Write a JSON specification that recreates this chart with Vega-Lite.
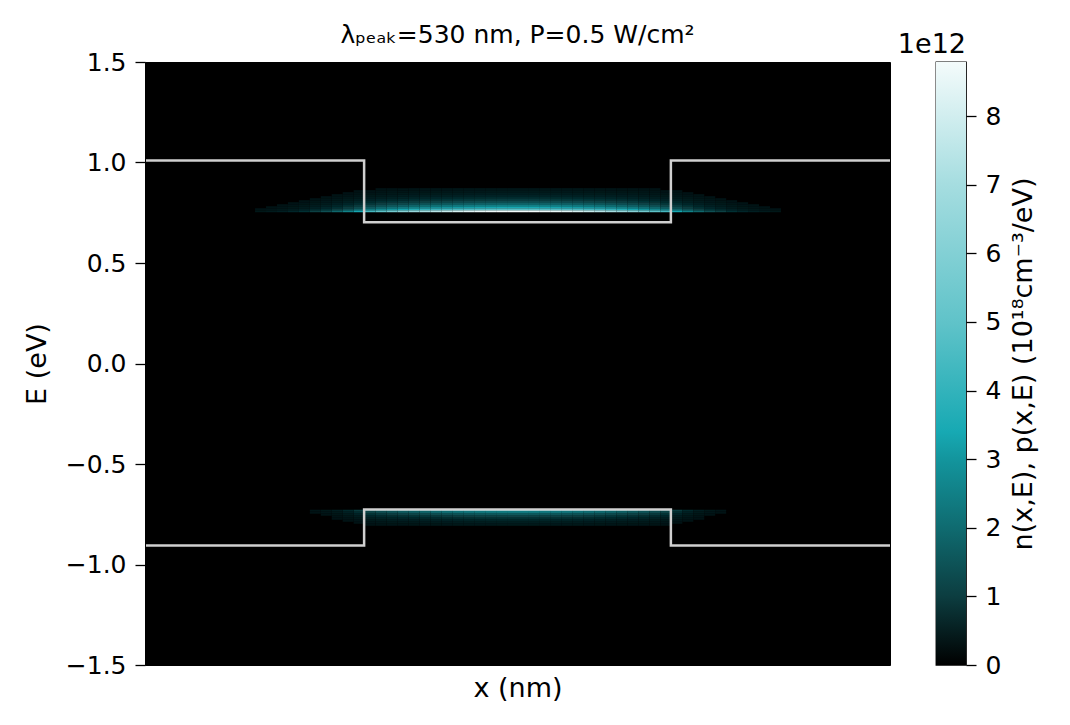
{
  "$schema": "https://vega.github.io/schema/vega-lite/v6.json",
  "padding": {"left": 22, "top": 22, "right": 5, "bottom": 5},
  "background": "white",
  "config": {
    "font": "DejaVu Sans",
    "axis": {"labelFontSize": 25, "titleFontSize": 27, "labelColor": "black", "titleColor": "black", "titleFontWeight": "normal", "grid": false, "tickColor": "black", "domainColor": "black", "tickSize": 10, "tickWidth": 1.3, "labelPadding": 9},
    "title": {"fontWeight": "normal", "color": "black"}
  },
  "datasets": {
    "heat": [
      {"x":16.5,"e":0.755,"v":8.8},{"x":16,"e":0.755,"v":8.8},{"x":15.5,"e":0.755,"v":8.67},{"x":15,"e":0.755,"v":8.54},{"x":14.5,"e":0.755,"v":8.32},{"x":14,"e":0.755,"v":8.05},{"x":13.5,"e":0.755,"v":7.74},{"x":13,"e":0.755,"v":7.39},{"x":12.5,"e":0.755,"v":7.0},{"x":12,"e":0.755,"v":6.56},{"x":11.5,"e":0.755,"v":6.07},{"x":11,"e":0.755,"v":5.46},{"x":10.5,"e":0.755,"v":4.88},{"x":10,"e":0.755,"v":4.22},{"x":9.5,"e":0.755,"v":3.34},{"x":9,"e":0.755,"v":2.55},{"x":8.5,"e":0.755,"v":1.89},{"x":8,"e":0.755,"v":1.41},{"x":7.5,"e":0.755,"v":1.06},{"x":7,"e":0.755,"v":0.75},{"x":6.5,"e":0.755,"v":0.53},{"x":6,"e":0.755,"v":0.37},{"x":5.5,"e":0.755,"v":0.26},{"x":5,"e":0.755,"v":0.18},
      {"x":17,"e":0.755,"v":8.8},{"x":17.5,"e":0.755,"v":8.8},{"x":18,"e":0.755,"v":8.67},{"x":18.5,"e":0.755,"v":8.54},{"x":19,"e":0.755,"v":8.32},{"x":19.5,"e":0.755,"v":8.05},{"x":20,"e":0.755,"v":7.74},{"x":20.5,"e":0.755,"v":7.39},{"x":21,"e":0.755,"v":7.0},{"x":21.5,"e":0.755,"v":6.56},{"x":22,"e":0.755,"v":6.07},{"x":22.5,"e":0.755,"v":5.46},{"x":23,"e":0.755,"v":4.88},{"x":23.5,"e":0.755,"v":4.22},{"x":24,"e":0.755,"v":3.34},{"x":24.5,"e":0.755,"v":2.55},{"x":25,"e":0.755,"v":1.89},{"x":25.5,"e":0.755,"v":1.41},{"x":26,"e":0.755,"v":1.06},{"x":26.5,"e":0.755,"v":0.75},{"x":27,"e":0.755,"v":0.53},{"x":27.5,"e":0.755,"v":0.37},{"x":28,"e":0.755,"v":0.26},{"x":28.5,"e":0.755,"v":0.18},
      {"x":16.5,"e":0.765,"v":4.8},{"x":16,"e":0.765,"v":4.8},{"x":15.5,"e":0.765,"v":4.73},{"x":15,"e":0.765,"v":4.66},{"x":14.5,"e":0.765,"v":4.54},{"x":14,"e":0.765,"v":4.39},{"x":13.5,"e":0.765,"v":4.22},{"x":13,"e":0.765,"v":4.03},{"x":12.5,"e":0.765,"v":3.82},{"x":12,"e":0.765,"v":3.58},{"x":11.5,"e":0.765,"v":3.31},{"x":11,"e":0.765,"v":2.98},{"x":10.5,"e":0.765,"v":2.66},{"x":10,"e":0.765,"v":2.3},{"x":9.5,"e":0.765,"v":1.82},{"x":9,"e":0.765,"v":1.39},{"x":8.5,"e":0.765,"v":1.03},{"x":8,"e":0.765,"v":0.77},{"x":7.5,"e":0.765,"v":0.58},{"x":7,"e":0.765,"v":0.41},{"x":6.5,"e":0.765,"v":0.29},{"x":6,"e":0.765,"v":0.2},{"x":5.5,"e":0.765,"v":0.14},{"x":5,"e":0.765,"v":0.1},
      {"x":17,"e":0.765,"v":4.8},{"x":17.5,"e":0.765,"v":4.8},{"x":18,"e":0.765,"v":4.73},{"x":18.5,"e":0.765,"v":4.66},{"x":19,"e":0.765,"v":4.54},{"x":19.5,"e":0.765,"v":4.39},{"x":20,"e":0.765,"v":4.22},{"x":20.5,"e":0.765,"v":4.03},{"x":21,"e":0.765,"v":3.82},{"x":21.5,"e":0.765,"v":3.58},{"x":22,"e":0.765,"v":3.31},{"x":22.5,"e":0.765,"v":2.98},{"x":23,"e":0.765,"v":2.66},{"x":23.5,"e":0.765,"v":2.3},{"x":24,"e":0.765,"v":1.82},{"x":24.5,"e":0.765,"v":1.39},{"x":25,"e":0.765,"v":1.03},{"x":25.5,"e":0.765,"v":0.77},{"x":26,"e":0.765,"v":0.58},{"x":26.5,"e":0.765,"v":0.41},{"x":27,"e":0.765,"v":0.29},{"x":27.5,"e":0.765,"v":0.2},{"x":28,"e":0.765,"v":0.14},{"x":28.5,"e":0.765,"v":0.1},
      {"x":16.5,"e":0.775,"v":3.4},{"x":16,"e":0.775,"v":3.4},{"x":15.5,"e":0.775,"v":3.35},{"x":15,"e":0.775,"v":3.3},{"x":14.5,"e":0.775,"v":3.21},{"x":14,"e":0.775,"v":3.11},{"x":13.5,"e":0.775,"v":2.99},{"x":13,"e":0.775,"v":2.86},{"x":12.5,"e":0.775,"v":2.7},{"x":12,"e":0.775,"v":2.53},{"x":11.5,"e":0.775,"v":2.35},{"x":11,"e":0.775,"v":2.11},{"x":10.5,"e":0.775,"v":1.89},{"x":10,"e":0.775,"v":1.63},{"x":9.5,"e":0.775,"v":1.29},{"x":9,"e":0.775,"v":0.99},{"x":8.5,"e":0.775,"v":0.73},{"x":8,"e":0.775,"v":0.54},{"x":7.5,"e":0.775,"v":0.41},{"x":7,"e":0.775,"v":0.29},{"x":6.5,"e":0.775,"v":0.2},{"x":6,"e":0.775,"v":0.14},{"x":5.5,"e":0.775,"v":0.1},
      {"x":17,"e":0.775,"v":3.4},{"x":17.5,"e":0.775,"v":3.4},{"x":18,"e":0.775,"v":3.35},{"x":18.5,"e":0.775,"v":3.3},{"x":19,"e":0.775,"v":3.21},{"x":19.5,"e":0.775,"v":3.11},{"x":20,"e":0.775,"v":2.99},{"x":20.5,"e":0.775,"v":2.86},{"x":21,"e":0.775,"v":2.7},{"x":21.5,"e":0.775,"v":2.53},{"x":22,"e":0.775,"v":2.35},{"x":22.5,"e":0.775,"v":2.11},{"x":23,"e":0.775,"v":1.89},{"x":23.5,"e":0.775,"v":1.63},{"x":24,"e":0.775,"v":1.29},{"x":24.5,"e":0.775,"v":0.99},{"x":25,"e":0.775,"v":0.73},{"x":25.5,"e":0.775,"v":0.54},{"x":26,"e":0.775,"v":0.41},{"x":26.5,"e":0.775,"v":0.29},{"x":27,"e":0.775,"v":0.2},{"x":27.5,"e":0.775,"v":0.14},{"x":28,"e":0.775,"v":0.1},
      {"x":16.5,"e":0.785,"v":2.5},{"x":16,"e":0.785,"v":2.5},{"x":15.5,"e":0.785,"v":2.46},{"x":15,"e":0.785,"v":2.43},{"x":14.5,"e":0.785,"v":2.36},{"x":14,"e":0.785,"v":2.29},{"x":13.5,"e":0.785,"v":2.2},{"x":13,"e":0.785,"v":2.1},{"x":12.5,"e":0.785,"v":1.99},{"x":12,"e":0.785,"v":1.86},{"x":11.5,"e":0.785,"v":1.73},{"x":11,"e":0.785,"v":1.55},{"x":10.5,"e":0.785,"v":1.39},{"x":10,"e":0.785,"v":1.2},{"x":9.5,"e":0.785,"v":0.95},{"x":9,"e":0.785,"v":0.73},{"x":8.5,"e":0.785,"v":0.54},{"x":8,"e":0.785,"v":0.4},{"x":7.5,"e":0.785,"v":0.3},{"x":7,"e":0.785,"v":0.21},{"x":6.5,"e":0.785,"v":0.15},{"x":6,"e":0.785,"v":0.1},
      {"x":17,"e":0.785,"v":2.5},{"x":17.5,"e":0.785,"v":2.5},{"x":18,"e":0.785,"v":2.46},{"x":18.5,"e":0.785,"v":2.43},{"x":19,"e":0.785,"v":2.36},{"x":19.5,"e":0.785,"v":2.29},{"x":20,"e":0.785,"v":2.2},{"x":20.5,"e":0.785,"v":2.1},{"x":21,"e":0.785,"v":1.99},{"x":21.5,"e":0.785,"v":1.86},{"x":22,"e":0.785,"v":1.73},{"x":22.5,"e":0.785,"v":1.55},{"x":23,"e":0.785,"v":1.39},{"x":23.5,"e":0.785,"v":1.2},{"x":24,"e":0.785,"v":0.95},{"x":24.5,"e":0.785,"v":0.73},{"x":25,"e":0.785,"v":0.54},{"x":25.5,"e":0.785,"v":0.4},{"x":26,"e":0.785,"v":0.3},{"x":26.5,"e":0.785,"v":0.21},{"x":27,"e":0.785,"v":0.15},{"x":27.5,"e":0.785,"v":0.1},
      {"x":16.5,"e":0.795,"v":1.8},{"x":16,"e":0.795,"v":1.8},{"x":15.5,"e":0.795,"v":1.77},{"x":15,"e":0.795,"v":1.75},{"x":14.5,"e":0.795,"v":1.7},{"x":14,"e":0.795,"v":1.65},{"x":13.5,"e":0.795,"v":1.58},{"x":13,"e":0.795,"v":1.51},{"x":12.5,"e":0.795,"v":1.43},{"x":12,"e":0.795,"v":1.34},{"x":11.5,"e":0.795,"v":1.24},{"x":11,"e":0.795,"v":1.12},{"x":10.5,"e":0.795,"v":1.0},{"x":10,"e":0.795,"v":0.86},{"x":9.5,"e":0.795,"v":0.68},{"x":9,"e":0.795,"v":0.52},{"x":8.5,"e":0.795,"v":0.39},{"x":8,"e":0.795,"v":0.29},{"x":7.5,"e":0.795,"v":0.22},{"x":7,"e":0.795,"v":0.15},{"x":6.5,"e":0.795,"v":0.11},
      {"x":17,"e":0.795,"v":1.8},{"x":17.5,"e":0.795,"v":1.8},{"x":18,"e":0.795,"v":1.77},{"x":18.5,"e":0.795,"v":1.75},{"x":19,"e":0.795,"v":1.7},{"x":19.5,"e":0.795,"v":1.65},{"x":20,"e":0.795,"v":1.58},{"x":20.5,"e":0.795,"v":1.51},{"x":21,"e":0.795,"v":1.43},{"x":21.5,"e":0.795,"v":1.34},{"x":22,"e":0.795,"v":1.24},{"x":22.5,"e":0.795,"v":1.12},{"x":23,"e":0.795,"v":1.0},{"x":23.5,"e":0.795,"v":0.86},{"x":24,"e":0.795,"v":0.68},{"x":24.5,"e":0.795,"v":0.52},{"x":25,"e":0.795,"v":0.39},{"x":25.5,"e":0.795,"v":0.29},{"x":26,"e":0.795,"v":0.22},{"x":26.5,"e":0.795,"v":0.15},{"x":27,"e":0.795,"v":0.11},
      {"x":16.5,"e":0.805,"v":1.3},{"x":16,"e":0.805,"v":1.3},{"x":15.5,"e":0.805,"v":1.28},{"x":15,"e":0.805,"v":1.26},{"x":14.5,"e":0.805,"v":1.23},{"x":14,"e":0.805,"v":1.19},{"x":13.5,"e":0.805,"v":1.14},{"x":13,"e":0.805,"v":1.09},{"x":12.5,"e":0.805,"v":1.03},{"x":12,"e":0.805,"v":0.97},{"x":11.5,"e":0.805,"v":0.9},{"x":11,"e":0.805,"v":0.81},{"x":10.5,"e":0.805,"v":0.72},{"x":10,"e":0.805,"v":0.62},{"x":9.5,"e":0.805,"v":0.49},{"x":9,"e":0.805,"v":0.38},{"x":8.5,"e":0.805,"v":0.28},{"x":8,"e":0.805,"v":0.21},{"x":7.5,"e":0.805,"v":0.16},{"x":7,"e":0.805,"v":0.11},
      {"x":17,"e":0.805,"v":1.3},{"x":17.5,"e":0.805,"v":1.3},{"x":18,"e":0.805,"v":1.28},{"x":18.5,"e":0.805,"v":1.26},{"x":19,"e":0.805,"v":1.23},{"x":19.5,"e":0.805,"v":1.19},{"x":20,"e":0.805,"v":1.14},{"x":20.5,"e":0.805,"v":1.09},{"x":21,"e":0.805,"v":1.03},{"x":21.5,"e":0.805,"v":0.97},{"x":22,"e":0.805,"v":0.9},{"x":22.5,"e":0.805,"v":0.81},{"x":23,"e":0.805,"v":0.72},{"x":23.5,"e":0.805,"v":0.62},{"x":24,"e":0.805,"v":0.49},{"x":24.5,"e":0.805,"v":0.38},{"x":25,"e":0.805,"v":0.28},{"x":25.5,"e":0.805,"v":0.21},{"x":26,"e":0.805,"v":0.16},{"x":26.5,"e":0.805,"v":0.11},
      {"x":16.5,"e":0.815,"v":0.92},{"x":16,"e":0.815,"v":0.92},{"x":15.5,"e":0.815,"v":0.91},{"x":15,"e":0.815,"v":0.89},{"x":14.5,"e":0.815,"v":0.87},{"x":14,"e":0.815,"v":0.84},{"x":13.5,"e":0.815,"v":0.81},{"x":13,"e":0.815,"v":0.77},{"x":12.5,"e":0.815,"v":0.73},{"x":12,"e":0.815,"v":0.69},{"x":11.5,"e":0.815,"v":0.63},{"x":11,"e":0.815,"v":0.57},{"x":10.5,"e":0.815,"v":0.51},{"x":10,"e":0.815,"v":0.44},{"x":9.5,"e":0.815,"v":0.35},{"x":9,"e":0.815,"v":0.27},{"x":8.5,"e":0.815,"v":0.2},{"x":8,"e":0.815,"v":0.15},{"x":7.5,"e":0.815,"v":0.11},
      {"x":17,"e":0.815,"v":0.92},{"x":17.5,"e":0.815,"v":0.92},{"x":18,"e":0.815,"v":0.91},{"x":18.5,"e":0.815,"v":0.89},{"x":19,"e":0.815,"v":0.87},{"x":19.5,"e":0.815,"v":0.84},{"x":20,"e":0.815,"v":0.81},{"x":20.5,"e":0.815,"v":0.77},{"x":21,"e":0.815,"v":0.73},{"x":21.5,"e":0.815,"v":0.69},{"x":22,"e":0.815,"v":0.63},{"x":22.5,"e":0.815,"v":0.57},{"x":23,"e":0.815,"v":0.51},{"x":23.5,"e":0.815,"v":0.44},{"x":24,"e":0.815,"v":0.35},{"x":24.5,"e":0.815,"v":0.27},{"x":25,"e":0.815,"v":0.2},{"x":25.5,"e":0.815,"v":0.15},{"x":26,"e":0.815,"v":0.11},
      {"x":16.5,"e":0.825,"v":0.65},{"x":16,"e":0.825,"v":0.65},{"x":15.5,"e":0.825,"v":0.64},{"x":15,"e":0.825,"v":0.63},{"x":14.5,"e":0.825,"v":0.61},{"x":14,"e":0.825,"v":0.59},{"x":13.5,"e":0.825,"v":0.57},{"x":13,"e":0.825,"v":0.55},{"x":12.5,"e":0.825,"v":0.52},{"x":12,"e":0.825,"v":0.48},{"x":11.5,"e":0.825,"v":0.45},{"x":11,"e":0.825,"v":0.4},{"x":10.5,"e":0.825,"v":0.36},{"x":10,"e":0.825,"v":0.31},{"x":9.5,"e":0.825,"v":0.25},{"x":9,"e":0.825,"v":0.19},{"x":8.5,"e":0.825,"v":0.14},{"x":8,"e":0.825,"v":0.1},
      {"x":17,"e":0.825,"v":0.65},{"x":17.5,"e":0.825,"v":0.65},{"x":18,"e":0.825,"v":0.64},{"x":18.5,"e":0.825,"v":0.63},{"x":19,"e":0.825,"v":0.61},{"x":19.5,"e":0.825,"v":0.59},{"x":20,"e":0.825,"v":0.57},{"x":20.5,"e":0.825,"v":0.55},{"x":21,"e":0.825,"v":0.52},{"x":21.5,"e":0.825,"v":0.48},{"x":22,"e":0.825,"v":0.45},{"x":22.5,"e":0.825,"v":0.4},{"x":23,"e":0.825,"v":0.36},{"x":23.5,"e":0.825,"v":0.31},{"x":24,"e":0.825,"v":0.25},{"x":24.5,"e":0.825,"v":0.19},{"x":25,"e":0.825,"v":0.14},{"x":25.5,"e":0.825,"v":0.1},
      {"x":16.5,"e":0.835,"v":0.46},{"x":16,"e":0.835,"v":0.46},{"x":15.5,"e":0.835,"v":0.45},{"x":15,"e":0.835,"v":0.45},{"x":14.5,"e":0.835,"v":0.43},{"x":14,"e":0.835,"v":0.42},{"x":13.5,"e":0.835,"v":0.4},{"x":13,"e":0.835,"v":0.39},{"x":12.5,"e":0.835,"v":0.37},{"x":12,"e":0.835,"v":0.34},{"x":11.5,"e":0.835,"v":0.32},{"x":11,"e":0.835,"v":0.29},{"x":10.5,"e":0.835,"v":0.26},{"x":10,"e":0.835,"v":0.22},{"x":9.5,"e":0.835,"v":0.17},{"x":9,"e":0.835,"v":0.13},{"x":8.5,"e":0.835,"v":0.1},
      {"x":17,"e":0.835,"v":0.46},{"x":17.5,"e":0.835,"v":0.46},{"x":18,"e":0.835,"v":0.45},{"x":18.5,"e":0.835,"v":0.45},{"x":19,"e":0.835,"v":0.43},{"x":19.5,"e":0.835,"v":0.42},{"x":20,"e":0.835,"v":0.4},{"x":20.5,"e":0.835,"v":0.39},{"x":21,"e":0.835,"v":0.37},{"x":21.5,"e":0.835,"v":0.34},{"x":22,"e":0.835,"v":0.32},{"x":22.5,"e":0.835,"v":0.29},{"x":23,"e":0.835,"v":0.26},{"x":23.5,"e":0.835,"v":0.22},{"x":24,"e":0.835,"v":0.17},{"x":24.5,"e":0.835,"v":0.13},{"x":25,"e":0.835,"v":0.1},
      {"x":16.5,"e":0.845,"v":0.32},{"x":16,"e":0.845,"v":0.32},{"x":15.5,"e":0.845,"v":0.32},{"x":15,"e":0.845,"v":0.31},{"x":14.5,"e":0.845,"v":0.3},{"x":14,"e":0.845,"v":0.29},{"x":13.5,"e":0.845,"v":0.28},{"x":13,"e":0.845,"v":0.27},{"x":12.5,"e":0.845,"v":0.25},{"x":12,"e":0.845,"v":0.24},{"x":11.5,"e":0.845,"v":0.22},{"x":11,"e":0.845,"v":0.2},{"x":10.5,"e":0.845,"v":0.18},{"x":10,"e":0.845,"v":0.15},{"x":9.5,"e":0.845,"v":0.12},{"x":9,"e":0.845,"v":0.09},
      {"x":17,"e":0.845,"v":0.32},{"x":17.5,"e":0.845,"v":0.32},{"x":18,"e":0.845,"v":0.32},{"x":18.5,"e":0.845,"v":0.31},{"x":19,"e":0.845,"v":0.3},{"x":19.5,"e":0.845,"v":0.29},{"x":20,"e":0.845,"v":0.28},{"x":20.5,"e":0.845,"v":0.27},{"x":21,"e":0.845,"v":0.25},{"x":21.5,"e":0.845,"v":0.24},{"x":22,"e":0.845,"v":0.22},{"x":22.5,"e":0.845,"v":0.2},{"x":23,"e":0.845,"v":0.18},{"x":23.5,"e":0.845,"v":0.15},{"x":24,"e":0.845,"v":0.12},{"x":24.5,"e":0.845,"v":0.09},
      {"x":16.5,"e":0.855,"v":0.22},{"x":16,"e":0.855,"v":0.22},{"x":15.5,"e":0.855,"v":0.22},{"x":15,"e":0.855,"v":0.21},{"x":14.5,"e":0.855,"v":0.21},{"x":14,"e":0.855,"v":0.2},{"x":13.5,"e":0.855,"v":0.19},{"x":13,"e":0.855,"v":0.18},{"x":12.5,"e":0.855,"v":0.17},{"x":12,"e":0.855,"v":0.16},{"x":11.5,"e":0.855,"v":0.15},{"x":11,"e":0.855,"v":0.14},{"x":10.5,"e":0.855,"v":0.12},{"x":10,"e":0.855,"v":0.11},{"x":9.5,"e":0.855,"v":0.08},
      {"x":17,"e":0.855,"v":0.22},{"x":17.5,"e":0.855,"v":0.22},{"x":18,"e":0.855,"v":0.22},{"x":18.5,"e":0.855,"v":0.21},{"x":19,"e":0.855,"v":0.21},{"x":19.5,"e":0.855,"v":0.2},{"x":20,"e":0.855,"v":0.19},{"x":20.5,"e":0.855,"v":0.18},{"x":21,"e":0.855,"v":0.17},{"x":21.5,"e":0.855,"v":0.16},{"x":22,"e":0.855,"v":0.15},{"x":22.5,"e":0.855,"v":0.14},{"x":23,"e":0.855,"v":0.12},{"x":23.5,"e":0.855,"v":0.11},{"x":24,"e":0.855,"v":0.08},
      {"x":16.5,"e":0.865,"v":0.15},{"x":16,"e":0.865,"v":0.15},{"x":15.5,"e":0.865,"v":0.15},{"x":15,"e":0.865,"v":0.15},{"x":14.5,"e":0.865,"v":0.14},{"x":14,"e":0.865,"v":0.14},{"x":13.5,"e":0.865,"v":0.13},{"x":13,"e":0.865,"v":0.13},{"x":12.5,"e":0.865,"v":0.12},{"x":12,"e":0.865,"v":0.11},{"x":11.5,"e":0.865,"v":0.1},{"x":11,"e":0.865,"v":0.09},{"x":10.5,"e":0.865,"v":0.08},
      {"x":17,"e":0.865,"v":0.15},{"x":17.5,"e":0.865,"v":0.15},{"x":18,"e":0.865,"v":0.15},{"x":18.5,"e":0.865,"v":0.15},{"x":19,"e":0.865,"v":0.14},{"x":19.5,"e":0.865,"v":0.14},{"x":20,"e":0.865,"v":0.13},{"x":20.5,"e":0.865,"v":0.13},{"x":21,"e":0.865,"v":0.12},{"x":21.5,"e":0.865,"v":0.11},{"x":22,"e":0.865,"v":0.1},{"x":22.5,"e":0.865,"v":0.09},{"x":23,"e":0.865,"v":0.08},
      {"x":16.5,"e":-0.735,"v":3.4},{"x":16,"e":-0.735,"v":3.37},{"x":15.5,"e":-0.735,"v":3.32},{"x":15,"e":-0.735,"v":3.26},{"x":14.5,"e":-0.735,"v":3.18},{"x":14,"e":-0.735,"v":3.08},{"x":13.5,"e":-0.735,"v":2.96},{"x":13,"e":-0.735,"v":2.82},{"x":12.5,"e":-0.735,"v":2.67},{"x":12,"e":-0.735,"v":2.5},{"x":11.5,"e":-0.735,"v":2.33},{"x":11,"e":-0.735,"v":2.14},{"x":10.5,"e":-0.735,"v":1.96},{"x":10,"e":-0.735,"v":1.7},{"x":9.5,"e":-0.735,"v":0.95},{"x":9,"e":-0.735,"v":0.58},{"x":8.5,"e":-0.735,"v":0.34},{"x":8,"e":-0.735,"v":0.2},{"x":7.5,"e":-0.735,"v":0.12},
      {"x":17,"e":-0.735,"v":3.4},{"x":17.5,"e":-0.735,"v":3.37},{"x":18,"e":-0.735,"v":3.32},{"x":18.5,"e":-0.735,"v":3.26},{"x":19,"e":-0.735,"v":3.18},{"x":19.5,"e":-0.735,"v":3.08},{"x":20,"e":-0.735,"v":2.96},{"x":20.5,"e":-0.735,"v":2.82},{"x":21,"e":-0.735,"v":2.67},{"x":21.5,"e":-0.735,"v":2.5},{"x":22,"e":-0.735,"v":2.33},{"x":22.5,"e":-0.735,"v":2.14},{"x":23,"e":-0.735,"v":1.96},{"x":23.5,"e":-0.735,"v":1.7},{"x":24,"e":-0.735,"v":0.95},{"x":24.5,"e":-0.735,"v":0.58},{"x":25,"e":-0.735,"v":0.34},{"x":25.5,"e":-0.735,"v":0.2},{"x":26,"e":-0.735,"v":0.12},
      {"x":16.5,"e":-0.745,"v":2.3},{"x":16,"e":-0.745,"v":2.28},{"x":15.5,"e":-0.745,"v":2.24},{"x":15,"e":-0.745,"v":2.21},{"x":14.5,"e":-0.745,"v":2.15},{"x":14,"e":-0.745,"v":2.08},{"x":13.5,"e":-0.745,"v":2.0},{"x":13,"e":-0.745,"v":1.91},{"x":12.5,"e":-0.745,"v":1.81},{"x":12,"e":-0.745,"v":1.69},{"x":11.5,"e":-0.745,"v":1.58},{"x":11,"e":-0.745,"v":1.45},{"x":10.5,"e":-0.745,"v":1.32},{"x":10,"e":-0.745,"v":1.15},{"x":9.5,"e":-0.745,"v":0.64},{"x":9,"e":-0.745,"v":0.39},{"x":8.5,"e":-0.745,"v":0.23},{"x":8,"e":-0.745,"v":0.14},{"x":7.5,"e":-0.745,"v":0.08},
      {"x":17,"e":-0.745,"v":2.3},{"x":17.5,"e":-0.745,"v":2.28},{"x":18,"e":-0.745,"v":2.24},{"x":18.5,"e":-0.745,"v":2.21},{"x":19,"e":-0.745,"v":2.15},{"x":19.5,"e":-0.745,"v":2.08},{"x":20,"e":-0.745,"v":2.0},{"x":20.5,"e":-0.745,"v":1.91},{"x":21,"e":-0.745,"v":1.81},{"x":21.5,"e":-0.745,"v":1.69},{"x":22,"e":-0.745,"v":1.58},{"x":22.5,"e":-0.745,"v":1.45},{"x":23,"e":-0.745,"v":1.32},{"x":23.5,"e":-0.745,"v":1.15},{"x":24,"e":-0.745,"v":0.64},{"x":24.5,"e":-0.745,"v":0.39},{"x":25,"e":-0.745,"v":0.23},{"x":25.5,"e":-0.745,"v":0.14},{"x":26,"e":-0.745,"v":0.08},
      {"x":16.5,"e":-0.755,"v":1.6},{"x":16,"e":-0.755,"v":1.58},{"x":15.5,"e":-0.755,"v":1.56},{"x":15,"e":-0.755,"v":1.54},{"x":14.5,"e":-0.755,"v":1.5},{"x":14,"e":-0.755,"v":1.45},{"x":13.5,"e":-0.755,"v":1.39},{"x":13,"e":-0.755,"v":1.33},{"x":12.5,"e":-0.755,"v":1.26},{"x":12,"e":-0.755,"v":1.18},{"x":11.5,"e":-0.755,"v":1.1},{"x":11,"e":-0.755,"v":1.01},{"x":10.5,"e":-0.755,"v":0.92},{"x":10,"e":-0.755,"v":0.8},{"x":9.5,"e":-0.755,"v":0.45},{"x":9,"e":-0.755,"v":0.27},{"x":8.5,"e":-0.755,"v":0.16},{"x":8,"e":-0.755,"v":0.1},
      {"x":17,"e":-0.755,"v":1.6},{"x":17.5,"e":-0.755,"v":1.58},{"x":18,"e":-0.755,"v":1.56},{"x":18.5,"e":-0.755,"v":1.54},{"x":19,"e":-0.755,"v":1.5},{"x":19.5,"e":-0.755,"v":1.45},{"x":20,"e":-0.755,"v":1.39},{"x":20.5,"e":-0.755,"v":1.33},{"x":21,"e":-0.755,"v":1.26},{"x":21.5,"e":-0.755,"v":1.18},{"x":22,"e":-0.755,"v":1.1},{"x":22.5,"e":-0.755,"v":1.01},{"x":23,"e":-0.755,"v":0.92},{"x":23.5,"e":-0.755,"v":0.8},{"x":24,"e":-0.755,"v":0.45},{"x":24.5,"e":-0.755,"v":0.27},{"x":25,"e":-0.755,"v":0.16},{"x":25.5,"e":-0.755,"v":0.1},
      {"x":16.5,"e":-0.765,"v":1.1},{"x":16,"e":-0.765,"v":1.09},{"x":15.5,"e":-0.765,"v":1.07},{"x":15,"e":-0.765,"v":1.06},{"x":14.5,"e":-0.765,"v":1.03},{"x":14,"e":-0.765,"v":1.0},{"x":13.5,"e":-0.765,"v":0.96},{"x":13,"e":-0.765,"v":0.91},{"x":12.5,"e":-0.765,"v":0.86},{"x":12,"e":-0.765,"v":0.81},{"x":11.5,"e":-0.765,"v":0.75},{"x":11,"e":-0.765,"v":0.69},{"x":10.5,"e":-0.765,"v":0.63},{"x":10,"e":-0.765,"v":0.55},{"x":9.5,"e":-0.765,"v":0.31},{"x":9,"e":-0.765,"v":0.19},{"x":8.5,"e":-0.765,"v":0.11},
      {"x":17,"e":-0.765,"v":1.1},{"x":17.5,"e":-0.765,"v":1.09},{"x":18,"e":-0.765,"v":1.07},{"x":18.5,"e":-0.765,"v":1.06},{"x":19,"e":-0.765,"v":1.03},{"x":19.5,"e":-0.765,"v":1.0},{"x":20,"e":-0.765,"v":0.96},{"x":20.5,"e":-0.765,"v":0.91},{"x":21,"e":-0.765,"v":0.86},{"x":21.5,"e":-0.765,"v":0.81},{"x":22,"e":-0.765,"v":0.75},{"x":22.5,"e":-0.765,"v":0.69},{"x":23,"e":-0.765,"v":0.63},{"x":23.5,"e":-0.765,"v":0.55},{"x":24,"e":-0.765,"v":0.31},{"x":24.5,"e":-0.765,"v":0.19},{"x":25,"e":-0.765,"v":0.11},
      {"x":16.5,"e":-0.775,"v":0.75},{"x":16,"e":-0.775,"v":0.74},{"x":15.5,"e":-0.775,"v":0.73},{"x":15,"e":-0.775,"v":0.72},{"x":14.5,"e":-0.775,"v":0.7},{"x":14,"e":-0.775,"v":0.68},{"x":13.5,"e":-0.775,"v":0.65},{"x":13,"e":-0.775,"v":0.62},{"x":12.5,"e":-0.775,"v":0.59},{"x":12,"e":-0.775,"v":0.55},{"x":11.5,"e":-0.775,"v":0.51},{"x":11,"e":-0.775,"v":0.47},{"x":10.5,"e":-0.775,"v":0.43},{"x":10,"e":-0.775,"v":0.38},{"x":9.5,"e":-0.775,"v":0.21},{"x":9,"e":-0.775,"v":0.13},{"x":8.5,"e":-0.775,"v":0.08},
      {"x":17,"e":-0.775,"v":0.75},{"x":17.5,"e":-0.775,"v":0.74},{"x":18,"e":-0.775,"v":0.73},{"x":18.5,"e":-0.775,"v":0.72},{"x":19,"e":-0.775,"v":0.7},{"x":19.5,"e":-0.775,"v":0.68},{"x":20,"e":-0.775,"v":0.65},{"x":20.5,"e":-0.775,"v":0.62},{"x":21,"e":-0.775,"v":0.59},{"x":21.5,"e":-0.775,"v":0.55},{"x":22,"e":-0.775,"v":0.51},{"x":22.5,"e":-0.775,"v":0.47},{"x":23,"e":-0.775,"v":0.43},{"x":23.5,"e":-0.775,"v":0.38},{"x":24,"e":-0.775,"v":0.21},{"x":24.5,"e":-0.775,"v":0.13},{"x":25,"e":-0.775,"v":0.08},
      {"x":16.5,"e":-0.785,"v":0.5},{"x":16,"e":-0.785,"v":0.5},{"x":15.5,"e":-0.785,"v":0.49},{"x":15,"e":-0.785,"v":0.48},{"x":14.5,"e":-0.785,"v":0.47},{"x":14,"e":-0.785,"v":0.45},{"x":13.5,"e":-0.785,"v":0.44},{"x":13,"e":-0.785,"v":0.42},{"x":12.5,"e":-0.785,"v":0.39},{"x":12,"e":-0.785,"v":0.37},{"x":11.5,"e":-0.785,"v":0.34},{"x":11,"e":-0.785,"v":0.32},{"x":10.5,"e":-0.785,"v":0.29},{"x":10,"e":-0.785,"v":0.25},{"x":9.5,"e":-0.785,"v":0.14},{"x":9,"e":-0.785,"v":0.09},
      {"x":17,"e":-0.785,"v":0.5},{"x":17.5,"e":-0.785,"v":0.5},{"x":18,"e":-0.785,"v":0.49},{"x":18.5,"e":-0.785,"v":0.48},{"x":19,"e":-0.785,"v":0.47},{"x":19.5,"e":-0.785,"v":0.45},{"x":20,"e":-0.785,"v":0.44},{"x":20.5,"e":-0.785,"v":0.42},{"x":21,"e":-0.785,"v":0.39},{"x":21.5,"e":-0.785,"v":0.37},{"x":22,"e":-0.785,"v":0.34},{"x":22.5,"e":-0.785,"v":0.32},{"x":23,"e":-0.785,"v":0.29},{"x":23.5,"e":-0.785,"v":0.25},{"x":24,"e":-0.785,"v":0.14},{"x":24.5,"e":-0.785,"v":0.09},
      {"x":16.5,"e":-0.795,"v":0.33},{"x":16,"e":-0.795,"v":0.33},{"x":15.5,"e":-0.795,"v":0.32},{"x":15,"e":-0.795,"v":0.32},{"x":14.5,"e":-0.795,"v":0.31},{"x":14,"e":-0.795,"v":0.3},{"x":13.5,"e":-0.795,"v":0.29},{"x":13,"e":-0.795,"v":0.27},{"x":12.5,"e":-0.795,"v":0.26},{"x":12,"e":-0.795,"v":0.24},{"x":11.5,"e":-0.795,"v":0.23},{"x":11,"e":-0.795,"v":0.21},{"x":10.5,"e":-0.795,"v":0.19},{"x":10,"e":-0.795,"v":0.17},{"x":9.5,"e":-0.795,"v":0.09},
      {"x":17,"e":-0.795,"v":0.33},{"x":17.5,"e":-0.795,"v":0.33},{"x":18,"e":-0.795,"v":0.32},{"x":18.5,"e":-0.795,"v":0.32},{"x":19,"e":-0.795,"v":0.31},{"x":19.5,"e":-0.795,"v":0.3},{"x":20,"e":-0.795,"v":0.29},{"x":20.5,"e":-0.795,"v":0.27},{"x":21,"e":-0.795,"v":0.26},{"x":21.5,"e":-0.795,"v":0.24},{"x":22,"e":-0.795,"v":0.23},{"x":22.5,"e":-0.795,"v":0.21},{"x":23,"e":-0.795,"v":0.19},{"x":23.5,"e":-0.795,"v":0.17},{"x":24,"e":-0.795,"v":0.09},
      {"x":16.5,"e":-0.805,"v":0.22},{"x":16,"e":-0.805,"v":0.22},{"x":15.5,"e":-0.805,"v":0.21},{"x":15,"e":-0.805,"v":0.21},{"x":14.5,"e":-0.805,"v":0.21},{"x":14,"e":-0.805,"v":0.2},{"x":13.5,"e":-0.805,"v":0.19},{"x":13,"e":-0.805,"v":0.18},{"x":12.5,"e":-0.805,"v":0.17},{"x":12,"e":-0.805,"v":0.16},{"x":11.5,"e":-0.805,"v":0.15},{"x":11,"e":-0.805,"v":0.14},{"x":10.5,"e":-0.805,"v":0.13},{"x":10,"e":-0.805,"v":0.11},
      {"x":17,"e":-0.805,"v":0.22},{"x":17.5,"e":-0.805,"v":0.22},{"x":18,"e":-0.805,"v":0.21},{"x":18.5,"e":-0.805,"v":0.21},{"x":19,"e":-0.805,"v":0.21},{"x":19.5,"e":-0.805,"v":0.2},{"x":20,"e":-0.805,"v":0.19},{"x":20.5,"e":-0.805,"v":0.18},{"x":21,"e":-0.805,"v":0.17},{"x":21.5,"e":-0.805,"v":0.16},{"x":22,"e":-0.805,"v":0.15},{"x":22.5,"e":-0.805,"v":0.14},{"x":23,"e":-0.805,"v":0.13},{"x":23.5,"e":-0.805,"v":0.11}
    ],
    "bands": [
      {"b":"c","i":0,"x":0,"e":1.01},{"b":"c","i":1,"x":10,"e":1.01},{"b":"c","i":2,"x":10,"e":0.703},{"b":"c","i":3,"x":24,"e":0.703},{"b":"c","i":4,"x":24,"e":1.01},{"b":"c","i":5,"x":34,"e":1.01},
      {"b":"v","i":0,"x":0,"e":-0.905},{"b":"v","i":1,"x":10,"e":-0.905},{"b":"v","i":2,"x":10,"e":-0.726},{"b":"v","i":3,"x":24,"e":-0.726},{"b":"v","i":4,"x":24,"e":-0.905},{"b":"v","i":5,"x":34,"e":-0.905}
    ],
    "cbar": [{"lo":0,"hi":8.79}]
  },
  "hconcat": [
    {
      "width": 745,
      "height": 603,
      "title": {"text": "λₚₑₐₖ=530 nm, P=0.5 W/cm²", "fontSize": 25, "offset": 2},
      "view": {"fill": "black", "stroke": "black"},
      "layer": [
        {
          "data": {"name": "heat"},
          "mark": {"type": "rect"},
          "encoding": {
            "x": {"field": "x", "type": "quantitative", "bin": {"binned": true, "step": 0.5}, "scale": {"domain": [0, 34], "nice": false, "zero": false}, "axis": {"title": "x (nm)", "labels": false, "ticks": false, "domain": false, "titlePadding": 10}},
            "y": {"field": "e", "type": "quantitative", "bin": {"binned": true, "step": 0.01}, "scale": {"domain": [-1.5, 1.5], "nice": false, "zero": false}, "axis": {"title": "E (eV)", "titlePadding": 14, "values": [-1.5, -1.0, -0.5, 0.0, 0.5, 1.0, 1.5], "labelExpr": "replace(format(datum.value, '.1f'), '-', '−')"}},
            "color": {"field": "v", "type": "quantitative", "legend": null, "scale": {"domain": [0, 1, 2, 3, 3.4, 5, 7, 8.79], "range": ["#000000", "#0c3d40", "#0f6b70", "#13959d", "#17a9b3", "#60c3c9", "#a5dde0", "#f4fbfb"]}}
          }
        },
        {
          "data": {"name": "bands"},
          "mark": {"type": "line", "color": "#d0d0d0", "strokeWidth": 2.5},
          "encoding": {
            "x": {"field": "x", "type": "quantitative"},
            "y": {"field": "e", "type": "quantitative"},
            "detail": {"field": "b"},
            "order": {"field": "i", "type": "quantitative"}
          }
        }
      ]
    },
    {
      "width": 30,
      "height": 603,
      "title": {"text": "1e12", "anchor": "end", "frame": "group", "fontSize": 27, "offset": 3},
      "view": {"stroke": "black", "strokeWidth": 1.3},
      "data": {"name": "cbar"},
      "mark": {"type": "rect", "fill": {"gradient": "linear", "x1": 0, "y1": 1, "x2": 0, "y2": 0, "stops": [
        {"offset": 0, "color": "#000000"},
        {"offset": 0.1138, "color": "#0c3d40"},
        {"offset": 0.2275, "color": "#0f6b70"},
        {"offset": 0.3413, "color": "#13959d"},
        {"offset": 0.3868, "color": "#17a9b3"},
        {"offset": 0.5688, "color": "#60c3c9"},
        {"offset": 0.7964, "color": "#a5dde0"},
        {"offset": 1, "color": "#f4fbfb"}
      ]}},
      "encoding": {
        "x": {"value": 0},
        "x2": {"value": "width"},
        "y": {"field": "lo", "type": "quantitative", "scale": {"domain": [0, 8.79], "nice": false, "zero": false}, "axis": {"orient": "right", "values": [0, 1, 2, 3, 4, 5, 6, 7, 8], "format": "d", "title": "n(x,E), p(x,E) (10¹⁸cm⁻³/eV)", "titleAngle": -90, "titleBaseline": "top", "titlePadding": 10, "domain": false}},
        "y2": {"field": "hi"}
      }
    }
  ],
  "bounds": "flush",
  "spacing": 46
}
